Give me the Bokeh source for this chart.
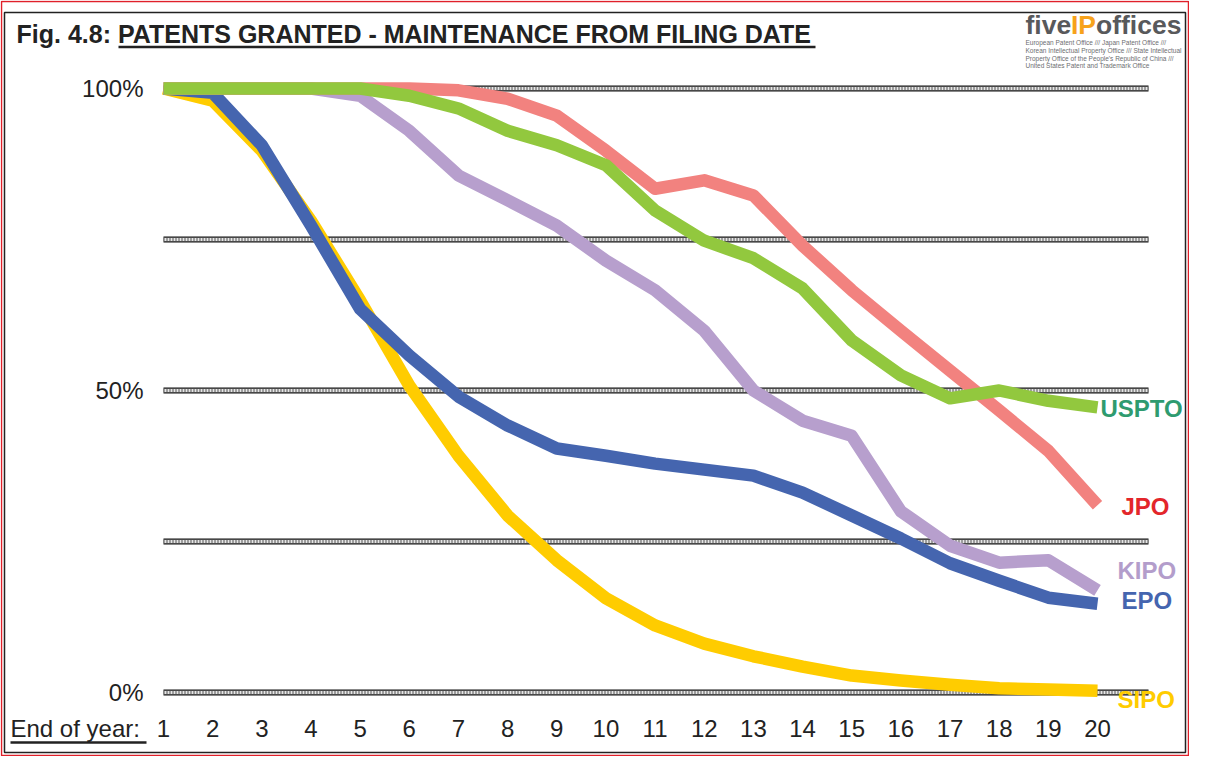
from bokeh.plotting import figure
from bokeh.models import Range1d
from bokeh.core.properties import value
from bokeh.embed import file_html
from bokeh.resources import INLINE

# ---------------- data ----------------
years = list(range(1, 21))
uspto = [100, 100, 100, 100, 100, 98.8, 96.7, 93.0, 90.6, 87.3, 79.8, 74.8, 71.9, 66.9, 58.3, 52.5, 48.7, 50.0, 48.3, 47.2]
jpo = [100, 100, 100, 100, 100, 100, 99.7, 98.3, 95.5, 89.7, 83.4, 84.8, 82.3, 74.0, 66.6, 59.9, 53.3, 46.7, 40.0, 31.0]
kipo = [100, 100, 100, 100, 98.8, 93.0, 85.6, 81.5, 77.3, 71.5, 66.6, 59.9, 50.0, 45.0, 42.5, 30.0, 24.3, 21.5, 21.9, 16.9]
epo = [100, 99.3, 90.6, 77.3, 63.5, 55.8, 49.0, 44.2, 40.4, 39.2, 37.9, 36.9, 35.9, 33.1, 29.3, 25.5, 21.4, 18.5, 15.7, 14.7]
sipo = [100, 98.0, 89.7, 78.1, 64.9, 50.8, 39.2, 29.3, 21.9, 15.6, 11.1, 8.1, 6.0, 4.3, 2.8, 2.0, 1.3, 0.7, 0.5, 0.3]

series_names = ["SIPO", "EPO", "KIPO", "JPO", "USPTO"]
series_values = [sipo, epo, kipo, jpo, uspto]
line_colors = ["#FFCC00", "#4565AF", "#B79FCD", "#F2827F", "#92C83E"]
label_colors = ["#FFCC00", "#4565AF", "#B39DCB", "#E3262B", "#2E9B6F"]

grid_values = [0, 25, 50, 75, 100]
y_tick_values = [0, 50, 100]
y_tick_labels = ["0%", "50%", "100%"]
x_tick_labels = [str(y) for y in years]

title_prefix = "Fig. 4.8: "
title_main = "PATENTS GRANTED - MAINTENANCE FROM FILING DATE"
x_axis_title = "End of year:"
logo_lines = [
    "European Patent Office /// Japan Patent Office ///",
    "Korean Intellectual Property Office /// State Intellectual",
    "Property Office of the People's Republic of China ///",
    "United States Patent and Trademark Office",
]

# ---------------- layout helpers (picture pixels -> data) ----------------
W, H = 1189, 756
X1PX, XSTEP = 163.0, 49.158
Y0PX, YSCALE = 692.0, 6.04
TDY = -9.0  # text baseline correction in pixels


def dx(px):
    return 1 + (px - X1PX) / XSTEP


def dy(py):
    return (Y0PX - py) / YSCALE


def ty(py):
    return dy(py + TDY)


FONT = value("Liberation Sans")

p = figure(width=W, height=H, output_backend="svg", toolbar_location=None,
           x_range=Range1d(dx(0), dx(W)), y_range=Range1d(dy(H), dy(0)),
           x_axis_type=None, y_axis_type=None, min_border=0,
           min_border_left=0, min_border_right=0, min_border_top=0, min_border_bottom=0)
p.outline_line_color = None
p.grid.visible = False
p.background_fill_color = "white"
p.border_fill_color = "white"

# borders
p.quad(left=[dx(1)], right=[dx(W - 1)], bottom=[dy(H - 1)], top=[dy(1)],
       fill_color=None, line_color="#E0202A", line_width=1.5)
p.quad(left=[dx(4)], right=[dx(1185)], bottom=[dy(752)], top=[dy(12)],
       fill_color=None, line_color="#222222", line_width=1.5)

# gridlines (patterned double lines)
gx_start, gx_end = 1, dx(1148)
gxs = [[gx_start, gx_end] for _ in grid_values]
gys = [[g, g] for g in grid_values]
p.multi_line(gxs, gys, line_color="#111111", line_width=6)
p.multi_line(gxs, gys, line_color="#e6e6e6", line_width=3.5)
p.multi_line(gxs, gys, line_color="#555555", line_width=3.5, line_dash="1 2")

# series
for vals, col in zip(series_values, line_colors):
    p.line(years, vals, line_color=col, line_width=12.5, line_join="round", line_cap="butt")

# series labels
lab_px = [1117, 1121, 1117, 1121, 1100]
lab_py = [708, 609, 579, 515, 416.7]
p.text(x=[dx(v) for v in lab_px], y=[ty(v) for v in lab_py], text=series_names,
       text_color=label_colors, text_font=FONT, text_font_size=value("24px"),
       text_font_style="bold", text_align="left", text_baseline="alphabetic")

# y tick labels
p.text(x=[dx(143)] * len(y_tick_values), y=[ty(Y0PX - v * YSCALE + 8.6) for v in y_tick_values],
       text=y_tick_labels, text_color="#222222", text_font=FONT, text_font_size=value("24px"),
       text_align="right", text_baseline="alphabetic")

# x tick labels
p.text(x=years, y=[ty(737)] * len(years), text=x_tick_labels,
       text_color="#222222", text_font=FONT, text_font_size=value("24px"),
       text_align="center", text_baseline="alphabetic")

# x axis title with underline
p.text(x=[dx(10)], y=[ty(737)], text=[x_axis_title],
       text_color="#222222", text_font=FONT, text_font_size=value("24px"),
       text_align="left", text_baseline="alphabetic")
p.line([dx(10), dx(146)], [dy(742), dy(742)], line_color="#222222", line_width=2.5)

# title
p.text(x=[dx(16)], y=[ty(42)], text=[title_prefix], text_color="#222222", text_font=FONT,
       text_font_size=value("25px"), text_font_style="bold", text_align="left", text_baseline="alphabetic")
p.text(x=[dx(117.5)], y=[ty(42)], text=[title_main], text_color="#222222", text_font=FONT,
       text_font_size=value("25px"), text_font_style="bold", text_align="left", text_baseline="alphabetic")
p.line([dx(118), dx(815)], [dy(46.5), dy(46.5)], line_color="#222222", line_width=2.5)

# logo
p.text(x=[dx(1025), dx(1070.5), dx(1095.5)], y=[ty(33.5)] * 3, text=["five", "IP", "offices"],
       text_color=["#58595B", "#F7A21B", "#58595B"], text_font=FONT, text_font_size=value("26.5px"),
       text_font_style="bold", text_align="left", text_baseline="alphabetic")
p.text(x=[dx(1025)] * 4, y=[ty(v) for v in [50.5, 58.5, 66.5, 74]], text=logo_lines,
       text_color="#6d6e70", text_font=FONT, text_font_size=value("6.5px"),
       text_align="left", text_baseline="alphabetic")

open("out.html", "w").write(file_html(p, INLINE))
